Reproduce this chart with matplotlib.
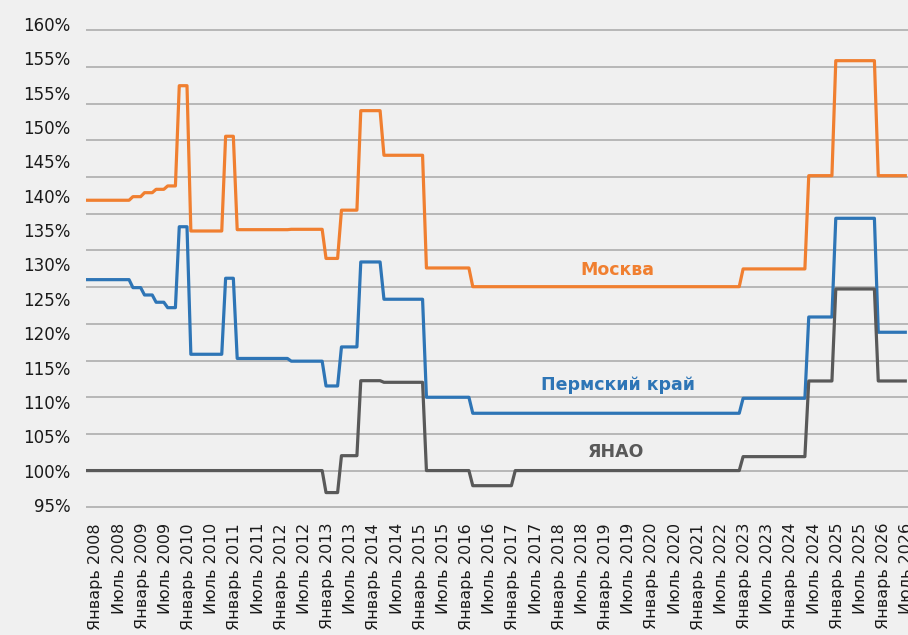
import matplotlib.pyplot as plt
import numpy as np


X_LABELS = ['Январь 2008', 'Июль 2008', 'Январь 2009', 'Июль 2009',
            'Январь 2010', 'Июль 2010', 'Январь 2011', 'Июль 2011',
            'Январь 2012', 'Июль 2012', 'Январь 2013', 'Июль 2013',
            'Январь 2014', 'Июль 2014', 'Январь 2015', 'Июль 2015',
            'Январь 2016', 'Июль 2016', 'Январь 2017', 'Июль 2017',
            'Январь 2018', 'Июль 2018', 'Январь 2019', 'Июль 2019',
            'Январь 2020', 'Июль 2020', 'Январь 2021', 'Июль 2022',
            'Январь 2023', 'Июль 2023', 'Январь 2024', 'Июль 2024',
            'Январь 2025', 'Июль 2025', 'Январь 2026', 'Июль 2026']

Y_LABELS = ['160%', '155%', '155%', '150%', '145%', '140%', '135%', '130%',
            '125%', '120%', '115%', '110%', '105%', '100%', '95%']

# step levels (monthly points) and how many months each level lasts
msk_levels = [136.84, 137.33, 137.87, 138.33, 138.79, 152.45, 132.65, 145.56,
              132.83, 132.88, 128.91, 135.49, 149.05, 142.97, 127.61, 125.06,
              127.48, 140.19, 155.86, 140.19]
perm_levels = [126.02, 124.93, 123.93, 122.94, 122.20, 133.23, 115.85, 126.21,
               115.28, 114.91, 111.53, 116.85, 128.43, 123.35, 109.99, 107.81,
               109.85, 120.93, 134.38, 118.85]
msk_perm_months = [12, 3, 3, 3, 3, 3, 9, 3, 14, 9, 4, 5, 6, 11, 12, 70,
                   17, 7, 11, 8]

yanao_levels = [100.0, 97.0, 102.03, 112.25, 112.03, 100.0, 97.94, 100.0,
                101.9, 112.21, 124.75, 112.21]
yanao_months = [62, 4, 5, 6, 11, 12, 11, 59, 17, 7, 11, 8]

msk = np.repeat(msk_levels, msk_perm_months)
perm = np.repeat(perm_levels, msk_perm_months)
yanao = np.repeat(yanao_levels, yanao_months)
x = np.arange(len(msk))

BG = '#f0f0f0'
ORANGE = '#f07f30'
BLUE = '#2e75b6'
GRAY = '#595959'
GRID = '#a8a8a8'

fig = plt.figure(figsize=(9.08, 6.35), dpi=100, facecolor=BG)
ax = fig.add_axes([85.7 / 908, 1 - 514.6 / 635, 1 - 85.7 / 908, 495.3 / 635])
ax.set_facecolor(BG)

# gridlines every 5%
grid_levels = np.arange(95, 161, 5)
ax.hlines(grid_levels, -0.23, 212.7, colors=GRID, lw=1.1, zorder=0)

ax.plot(x, msk, color=ORANGE, lw=2.3)
ax.plot(x, perm, color=BLUE, lw=2.3)
ax.plot(x, yanao, color=GRAY, lw=2.3)

ax.set_xlim(-0.23, 212.7)
ax.set_ylim(94.0, 161.5)

ax.set_xticks(np.arange(len(X_LABELS)) * 6 + 2.4)
ax.set_xticklabels(X_LABELS, rotation=90, fontsize=11.5, color='#1a1a1a')
ax.set_yticks(np.linspace(160.86, 95.31, len(Y_LABELS)))
ax.set_yticklabels(Y_LABELS, fontsize=12, color='#1a1a1a')
ax.tick_params(axis='both', which='both', length=0)
ax.tick_params(axis='x', pad=6)
ax.tick_params(axis='y', pad=11)
for s in ax.spines.values():
    s.set_visible(False)

ax.text(137.5, 127.34, 'Москва', color=ORANGE, fontsize=12.5,
        fontweight='bold', ha='center', va='center')
ax.text(137.5, 111.67, 'Пермский край', color=BLUE, fontsize=12.5,
        fontweight='bold', ha='center', va='center')
ax.text(137.0, 102.54, 'ЯНАО', color=GRAY, fontsize=12.5,
        fontweight='bold', ha='center', va='center')

plt.savefig('out.png', dpi=100, facecolor=BG)
